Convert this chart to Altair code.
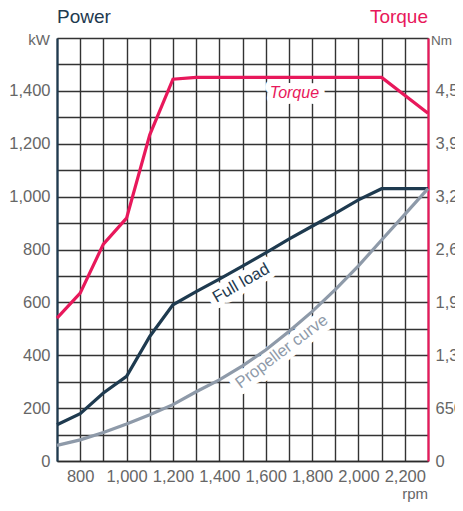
import altair as alt
import pandas as pd

# ---- data ----
rpm = [700, 800, 900, 1000, 1100, 1200, 1300, 1400, 1500, 1600, 1700, 1800, 1900, 2000, 2100, 2200, 2300]
full_load_kw = [137, 179, 257, 320, 471, 591, 641, 688, 737, 787, 839, 888, 937, 988, 1030, 1030, 1030]
propeller_kw = [59, 80, 108, 140, 175, 213, 262, 307, 360, 420, 490, 565, 648, 738, 836, 933, 1030]

torque_rpm = [700, 800, 900, 1000, 1100, 1200, 1300, 2100, 2300]
torque_nm = [1757, 2064, 2666, 2986, 4009, 4694, 4715, 4715, 4276]

x_grid = list(range(700, 2301, 100))
kw_grid = list(range(0, 1601, 100))
nm_ticks = [0, 650, 1300, 1950, 2600, 3250, 3900, 4550]

power_labels = ["Full load", "Propeller curve"]
power_label_rpm = [1494, 1669]
power_label_kw = [673, 414]
power_label_angle = [330, 323]

torque_label = ["Torque"]
torque_label_rpm = [1724]
torque_label_nm = [4521]

NAVY = "#1e3a4f"
GRAY = "#8e9aa9"
PINK = "#e8185b"
GRID = "#333333"
LABEL = "#666666"
FONT = "Liberation Sans"

df_power = pd.DataFrame({
    "rpm": rpm * 2,
    "kw": full_load_kw + propeller_kw,
    "series": ["Full load"] * len(rpm) + ["Propeller curve"] * len(rpm),
})
df_torque = pd.DataFrame({"rpm": torque_rpm, "nm": torque_nm})
df_plab = pd.DataFrame({"text": power_labels, "rpm": power_label_rpm,
                        "kw": power_label_kw, "angle": power_label_angle})
df_tlab = pd.DataFrame({"text": torque_label, "rpm": torque_label_rpm, "nm": torque_label_nm})

X = alt.X("rpm:Q",
          scale=alt.Scale(domain=[700, 2300], nice=False, zero=False),
          axis=alt.Axis(values=x_grid, title=None, ticks=False, grid=True,
                        gridColor=GRID, gridWidth=1.4,
                        domainColor="#2b2b2b", domainWidth=1.6,
                        labelExpr="datum.value % 200 == 0 && datum.value >= 800 && datum.value <= 2200 ? format(datum.value, ',') : ''",
                        labelFontSize=16.5, labelColor=LABEL, labelFont=FONT,
                        labelPadding=7, labelOverlap=False, labelFlush=False, labelBound=False))

Y_kw = alt.Y("kw:Q",
             scale=alt.Scale(domain=[0, 1600], nice=False, zero=True),
             axis=alt.Axis(values=kw_grid, title=None, ticks=False, grid=True,
                           gridColor=GRID, gridWidth=1.4,
                           domainColor=NAVY, domainWidth=2.2,
                           labelExpr="datum.value % 200 == 0 && datum.value < 1600 ? format(datum.value, ',') : ''",
                           labelFontSize=16.5, labelColor=LABEL, labelFont=FONT,
                           labelPadding=7, labelOverlap=False, labelFlush=False, labelBound=False))

Y_nm = alt.Y("nm:Q",
             scale=alt.Scale(domain=[0, 5200], nice=False, zero=True),
             axis=alt.Axis(values=nm_ticks, orient="right", title=None, ticks=False, grid=False,
                           domainColor=PINK, domainWidth=2.2,
                           labelExpr="format(datum.value, ',')",
                           labelFontSize=16.5, labelColor=LABEL, labelFont=FONT,
                           labelAlign="left",
                           labelPadding=7, labelOverlap=False, labelFlush=False, labelBound=False))

# power group
p_halo = alt.Chart(df_plab).mark_text(fontSize=16.5, font=FONT, stroke="white", fill="white",
                                      strokeWidth=12, strokeJoin="round").encode(
    x=X, y=Y_kw, text="text:N", angle=alt.Angle("angle:Q", scale=None))
p_lines = alt.Chart(df_power).mark_line(strokeWidth=3.2).encode(
    x=X, y=Y_kw,
    color=alt.Color("series:N", scale=alt.Scale(domain=["Full load", "Propeller curve"],
                                                range=[NAVY, GRAY]), legend=None))
p_text = alt.Chart(df_plab).mark_text(fontSize=16.5, font=FONT).encode(
    x=X, y=Y_kw, text="text:N", angle=alt.Angle("angle:Q", scale=None),
    color=alt.Color("text:N", scale=alt.Scale(domain=["Full load", "Propeller curve"],
                                              range=[NAVY, GRAY]), legend=None))
power = alt.layer(p_halo, p_lines, p_text)

# torque group
t_halo = alt.Chart(df_tlab).mark_text(fontSize=16, font=FONT, fontStyle="italic",
                                      stroke="white", fill="white", strokeWidth=12,
                                      strokeJoin="round").encode(x=X, y=Y_nm, text="text:N")
t_line = alt.Chart(df_torque).mark_line(strokeWidth=3.2, color=PINK).encode(x=X, y=Y_nm)
t_text = alt.Chart(df_tlab).mark_text(fontSize=16, font=FONT, fontStyle="italic",
                                      color=PINK).encode(x=X, y=Y_nm, text="text:N")
torque = alt.layer(t_halo, t_line, t_text)


def label(txt, x, y, align, size, color):
    return alt.Chart(pd.DataFrame({"t": [txt]})).mark_text(
        align=align, baseline="alphabetic", fontSize=size, font=FONT, color=color
    ).encode(x=alt.value(x), y=alt.value(y), text="t:N")


titles = alt.layer(
    label("Power", 0, -15, "left", 19, NAVY),
    label("Torque", 371, -15, "right", 19, PINK),
    label("kW", -7, 7, "right", 15, LABEL),
    label("Nm", 374, 7, "left", 13.5, LABEL),
    label("rpm", 371, 461, "right", 15, LABEL),
)

chart = alt.layer(power, torque, titles).resolve_scale(
    y="independent", color="independent"
).properties(
    width=371, height=423,
    autosize=alt.AutoSizeParams(type="none"),
    padding={"left": 49, "top": 30, "right": 27, "bottom": 41},
).configure_view(strokeWidth=0).configure(font=FONT)

chart.save("out.html", embed_options={"renderer": "svg", "actions": False})
